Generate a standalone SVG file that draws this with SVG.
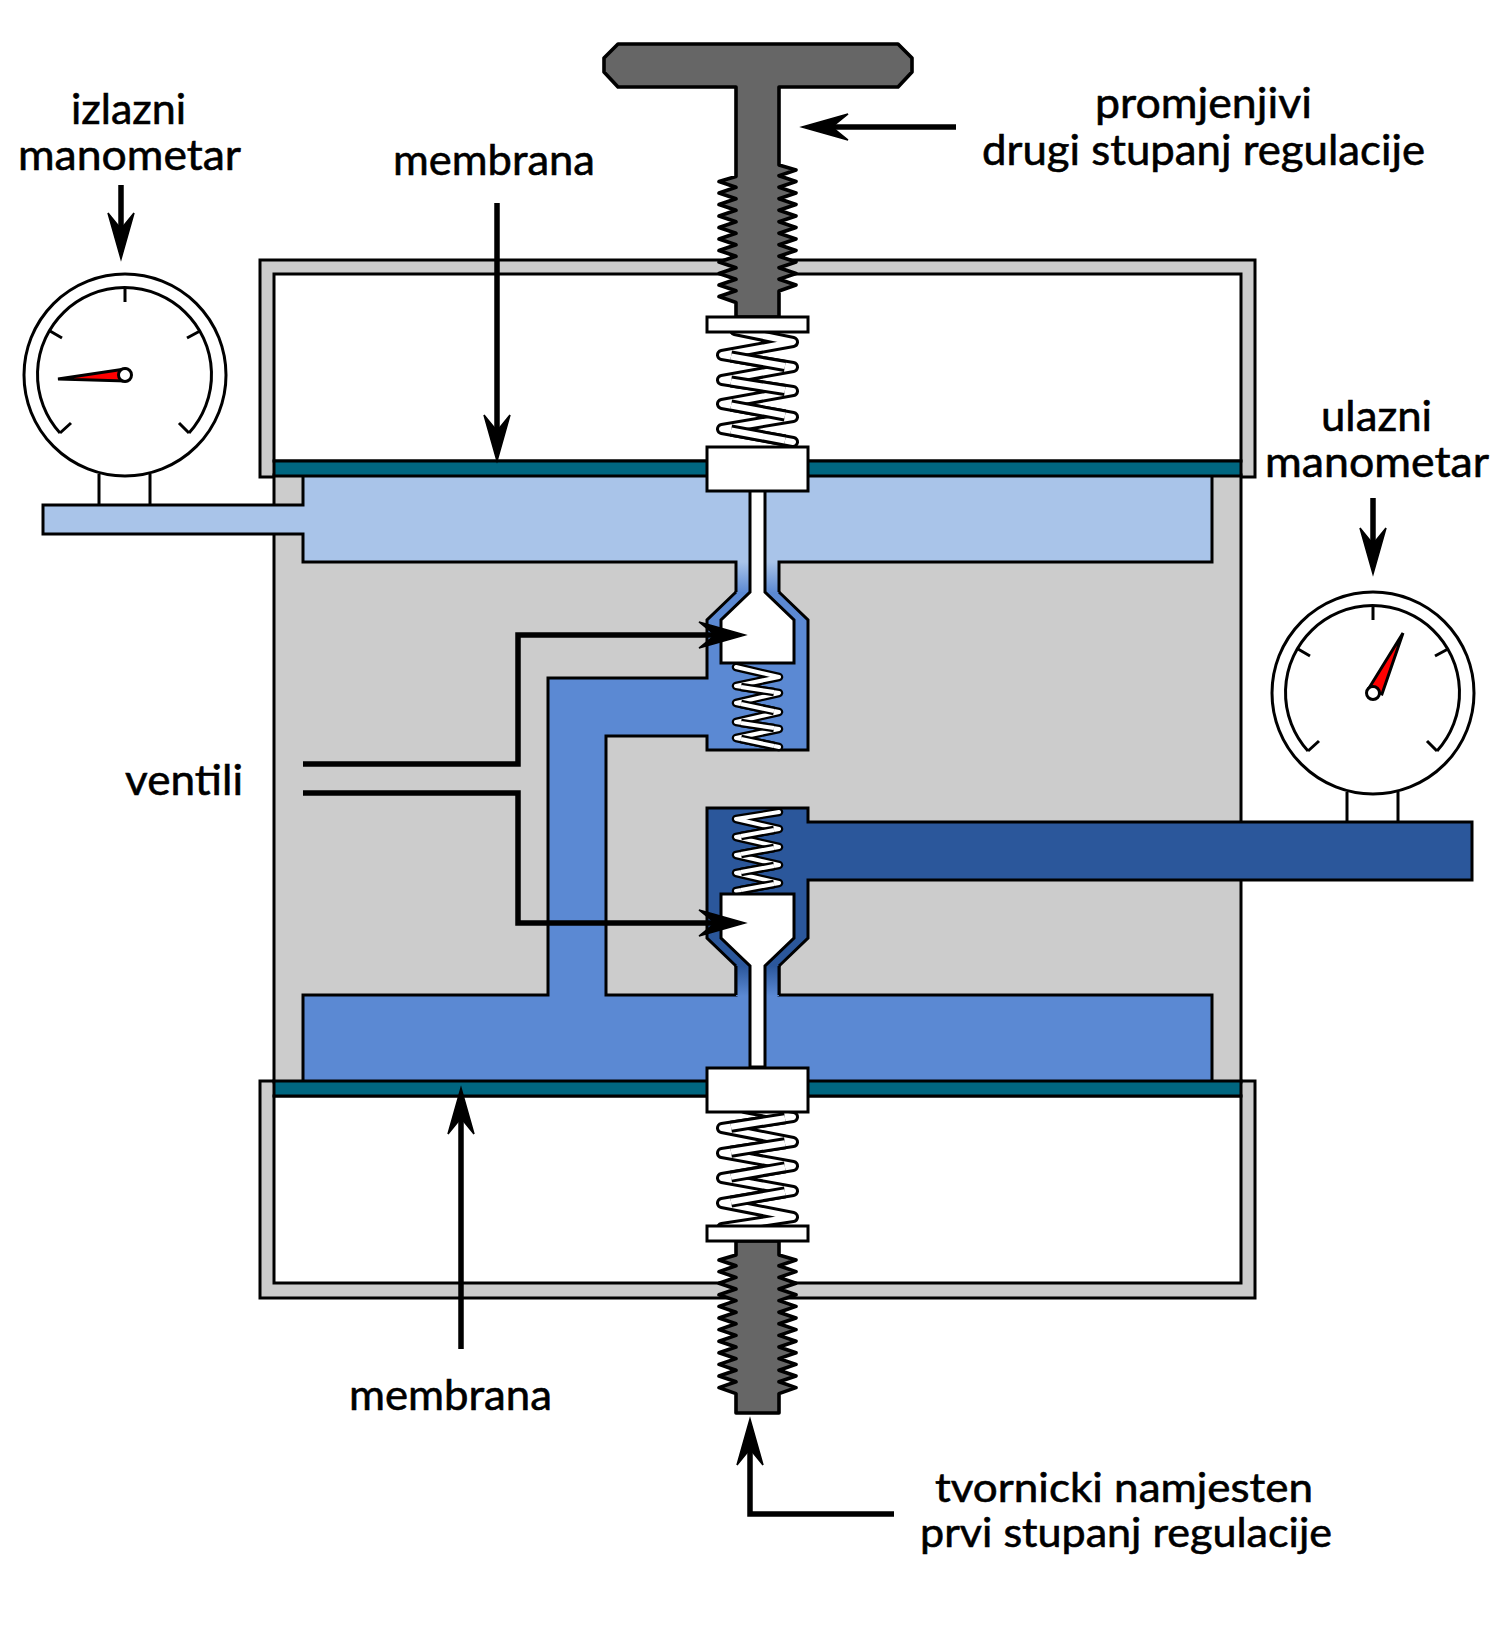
<svg xmlns="http://www.w3.org/2000/svg" width="1500" height="1644" viewBox="0 0 1500 1644">
<style>
.o{stroke:#000;stroke-width:3;stroke-linejoin:miter}
.n{fill:none}
.w{fill:#fff}
.g{fill:#ccc}
.t{fill:#006680}
.h{fill:#666}
.th{stroke:#000;stroke-width:3.6;stroke-linejoin:round;fill:#666}
.sb{fill:none;stroke:#000;stroke-width:12;stroke-linejoin:round;stroke-linecap:round}
.sw{fill:none;stroke:#fff;stroke-width:6;stroke-linejoin:round;stroke-linecap:round}
.fb{fill:none;stroke:#000;stroke-width:12}
.fw{fill:none;stroke:#fff;stroke-width:6}
.sm{stroke-width:8.5}
.smw{stroke-width:4}
.c{fill:none;stroke:#000;stroke-width:5.5}
.l{font-family:"Lato","Open Sans",sans-serif;font-size:43px;fill:#000;stroke:#000;stroke-width:.6}
.l2{font-size:41px}
</style>
<defs>
<linearGradient id="gl" x1="0" y1="0" x2="0" y2="1"><stop offset="0" stop-color="#a9c4e9"/><stop offset="1" stop-color="#5b89d3"/></linearGradient>
<linearGradient id="gd" x1="0" y1="0" x2="0" y2="1"><stop offset="0" stop-color="#2b579b"/><stop offset="1" stop-color="#5b89d3"/></linearGradient>
<marker id="arr" markerUnits="userSpaceOnUse" markerWidth="80" markerHeight="40" refX="48" refY="20" orient="auto"><path d="M67,20 L21,7 L37,20 L21,33 Z" fill="#000" stroke="#000" stroke-width="1.5"/></marker>
<g id="dial">
<circle cx="125" cy="375" r="101" class="o w"/>
<path d="M60,433 A87,87 0 1 1 189,433" class="o n"/>
<path d="M125,288 V302 M50,331 L62,338 M200,331 L187,338 M60,433 L71,423 M189,433 L179,423 M99,474 V505 M150,474 V505" class="o n"/>
</g>
<path id="zz1" d="M735,330 L793,342 L722,355 L793,367 L722,380 L793,391 L722,404 L793,417 L722,429 L793,442"/>
</defs>
<rect width="1500" height="1644" fill="#fff"/>

<g id="upper-housing"><path d="M260,260 H1255 V477 H260 Z M274,274 V461 H1241 V274 Z" class="o g" fill-rule="evenodd"/></g>
<g id="lower-housing"><path d="M260,1081 H1255 V1298 H260 Z M274,1096 V1283 H1241 V1096 Z" class="o g" fill-rule="evenodd"/></g>
<g id="body"><rect x="274" y="475" width="967" height="607" class="o g"/></g>

<g id="low-pressure-chamber">
<path d="M303,476 H1212 V562 H779 V592 H736 V562 H303 V534 H43 V505 H303 Z" fill="#a9c4e9"/>
<rect x="736" y="562" width="43" height="31" fill="url(#gl)"/>
<path d="M736,592 V562 H303 V534 H43 V505 H303 V476 M779,592 V562 H1212 V476" class="o n"/>
</g>
<g id="mid-pressure-chamber">
<path d="M736,592 H779 L808,620 V750 H707 V736 H606 V995 H736 H779 H1212 V1081 H303 V995 H548 V678 H707 V620 Z" fill="#5b89d3"/>
<path d="M736,592 L707,620 V678 H548 V995 H303 V1081 M779,592 L808,620 V750 H707 V736 H606 V995 H736 V966 M779,966 V995 H1212 V1081" class="o n"/>
</g>
<g id="high-pressure-chamber">
<path d="M736,966 L707,938 V808 H808 V822 H1472 V880 H808 V938 L779,966" fill="#2b579b" stroke="none"/>
<rect x="736" y="966" width="43" height="30" fill="url(#gd)"/>
<path d="M736,966 L707,938 V808 H808 V822 H1472 V880 H808 V938 L779,966" class="o n"/>
<path d="M736,966 V995 M779,966 V995" class="o n"/>
</g>
<g id="membranes">
<rect x="274" y="461" width="967" height="15" class="o t"/>
<rect x="274" y="1081" width="967" height="15" class="o t"/>
</g>

<g id="upper-valve-spring">
<path class="sb sm" d="M736,667 L779,677 L736,686 L779,693 L736,703 L779,712 L736,722 L779,729 L736,738 L779,747"/>
<path class="sw smw" d="M736,667 L779,677 L736,686 L779,693 L736,703 L779,712 L736,722 L779,729 L736,738 L779,747"/>
<path class="fb sm" d="M741,687 L774,692 M741,704 L774,711 M741,723 L774,728 M741,739 L774,746"/>
<path class="fw smw" d="M741,687 L774,692 M741,704 L774,711 M741,723 L774,728 M741,739 L774,746"/>
</g>
<g id="lower-valve-spring">
<path class="sb sm" d="M779,812 L736,819 L779,829 L736,837 L779,847 L736,855 L779,865 L736,873 L779,883 L736,891"/>
<path class="sw smw" d="M779,812 L736,819 L779,829 L736,837 L779,847 L736,855 L779,865 L736,873 L779,883 L736,891"/>
<path class="fb sm" d="M741,836 L774,830 M741,854 L774,848 M741,872 L774,866 M741,890 L774,884"/>
<path class="fw smw" d="M741,836 L774,830 M741,854 L774,848 M741,872 L774,866 M741,890 L774,884"/>
</g>
<g id="upper-valve"><path d="M750,490 H765 V592 L794,620 V663 H721 V620 L750,592 Z" class="o w"/></g>
<g id="lower-valve"><path d="M721,894 H794 V938 L765,966 V1067 H750 V966 L721,938 Z" class="o w"/></g>

<g id="upper-spring">
<use href="#zz1" class="sb"/>
<use href="#zz1" class="sw"/>
<path class="fb" d="M731,356.5 L785,366 M731,381.5 L785,390 M731,405.5 L785,415.5 M731,430.5 L785,440.5"/>
<path class="fw" d="M731,356.5 L785,366 M731,381.5 L785,390 M731,405.5 L785,415.5 M731,430.5 L785,440.5"/>
</g>
<g id="lower-spring">
<path class="sb" d="M745,1108 L793,1117 L722,1128 L793,1142 L722,1153 L793,1166 L722,1178 L793,1191 L722,1203 L793,1217 L722,1228"/>
<path class="sw" d="M745,1108 L793,1117 L722,1128 L793,1142 L722,1153 L793,1166 L722,1178 L793,1191 L722,1203 L793,1217 L722,1228"/>
<path class="fb" d="M731,1126.8 L785,1118.2 M731,1151.8 L785,1143.2 M731,1176.7 L785,1167.3 M731,1201.7 L785,1192.3"/>
<path class="fw" d="M731,1126.8 L785,1118.2 M731,1151.8 L785,1143.2 M731,1176.7 L785,1167.3 M731,1201.7 L785,1192.3"/>
</g>

<g id="handle-screw"><path class="th" d="M618,44 H898 L912,58 V72 L898,87 H779 V165 l17,5 l-17,5.75 l17,5.75 l-17,5.75 l17,5.75 l-17,5.75 l17,5.75 l-17,5.75 l17,5.75 l-17,5.75 l17,5.75 l-17,5.75 l17,5.75 l-17,5.75 l17,5.75 l-17,5.75 l17,5.75 l-17,5.75 l17,5.75 l-17,5.75 l17,5.75 l-17,6 V317 H736 V302.5 l-17,-6 l17,-5.75 l-17,-5.75 l17,-5.75 l-17,-5.75 l17,-5.75 l-17,-5.75 l17,-5.75 l-17,-5.75 l17,-5.75 l-17,-5.75 l17,-5.75 l-17,-5.75 l17,-5.75 l-17,-5.75 l17,-5.75 l-17,-5.75 l17,-5.75 l-17,-5.75 l17,-5.75 l-17,-5.75 l17,-5 V87 H618 L604,72 V58 Z"/></g>
<g id="factory-screw"><path class="th" d="M779,1241 V1255 l17,5 l-17,5.8 l17,5.8 l-17,5.8 l17,5.8 l-17,5.8 l17,5.8 l-17,5.8 l17,5.8 l-17,5.8 l17,5.8 l-17,5.8 l17,5.8 l-17,5.8 l17,5.8 l-17,5.8 l17,5.8 l-17,5.8 l17,5.8 l-17,5.8 l17,5.8 l-17,5.8 l17,5.8 l-17,6 V1413 H736 V1393.6 l-17,-6 l17,-5.8 l-17,-5.8 l17,-5.8 l-17,-5.8 l17,-5.8 l-17,-5.8 l17,-5.8 l-17,-5.8 l17,-5.8 l-17,-5.8 l17,-5.8 l-17,-5.8 l17,-5.8 l-17,-5.8 l17,-5.8 l-17,-5.8 l17,-5.8 l-17,-5.8 l17,-5.8 l-17,-5.8 l17,-5.8 l-17,-5.8 l17,-5 V1241 Z"/></g>
<g id="upper-plate"><rect x="707" y="317" width="101" height="15" class="o w"/></g>
<g id="upper-block"><rect x="707" y="447" width="101" height="44" class="o w"/></g>
<g id="lower-block"><rect x="707" y="1068" width="101" height="44" class="o w"/></g>
<g id="lower-plate"><rect x="707" y="1226" width="101" height="15" class="o w"/></g>

<g id="outlet-gauge">
<use href="#dial"/>
<path d="M58,379 L125,369 V381 Z" fill="#f00" class="o"/>
<circle cx="125" cy="375" r="6.5" class="o w"/>
</g>
<g id="inlet-gauge">
<use href="#dial" transform="translate(1248,318)"/>
<path d="M1403,633 L1369,688 L1382,694 Z" fill="#f00" class="o"/>
<circle cx="1373" cy="693" r="6.5" class="o w"/>
</g>

<g id="connectors">
<path class="c" marker-end="url(#arr)" d="M956,127 H821"/>
<path class="c" marker-end="url(#arr)" d="M121,185 V240"/>
<path class="c" marker-end="url(#arr)" d="M497,203 V442"/>
<path class="c" marker-end="url(#arr)" d="M1373,498 V555"/>
<path class="c" marker-end="url(#arr)" d="M461,1349 V1107"/>
<path class="c" marker-end="url(#arr)" d="M894,1514 H750 V1438"/>
<path class="c" marker-end="url(#arr)" d="M303,764 H518 V635 H726"/>
<path class="c" marker-end="url(#arr)" d="M303,793 H518 V923 H726"/>
</g>

<g id="labels">
<text class="l" x="71" y="124" textLength="115" lengthAdjust="spacingAndGlyphs">izlazni</text>
<text class="l" x="18" y="170" textLength="223" lengthAdjust="spacingAndGlyphs">manometar</text>
<text class="l" x="393" y="175" textLength="202" lengthAdjust="spacingAndGlyphs">membrana</text>
<text class="l" x="1095" y="118" textLength="217" lengthAdjust="spacingAndGlyphs">promjenjivi</text>
<text class="l" x="982" y="165" textLength="443" lengthAdjust="spacingAndGlyphs">drugi stupanj regulacije</text>
<text class="l" x="1321" y="431" textLength="111" lengthAdjust="spacingAndGlyphs">ulazni</text>
<text class="l" x="1265" y="477" textLength="224" lengthAdjust="spacingAndGlyphs">manometar</text>
<text class="l" x="125" y="795" textLength="118" lengthAdjust="spacingAndGlyphs">ventili</text>
<text class="l" x="349" y="1410" textLength="203" lengthAdjust="spacingAndGlyphs">membrana</text>
<text class="l l2" x="935" y="1502" textLength="378" lengthAdjust="spacingAndGlyphs">tvornicki namjesten</text>
<text class="l l2" x="920" y="1547" textLength="412" lengthAdjust="spacingAndGlyphs">prvi stupanj regulacije</text>
</g>
</svg>
